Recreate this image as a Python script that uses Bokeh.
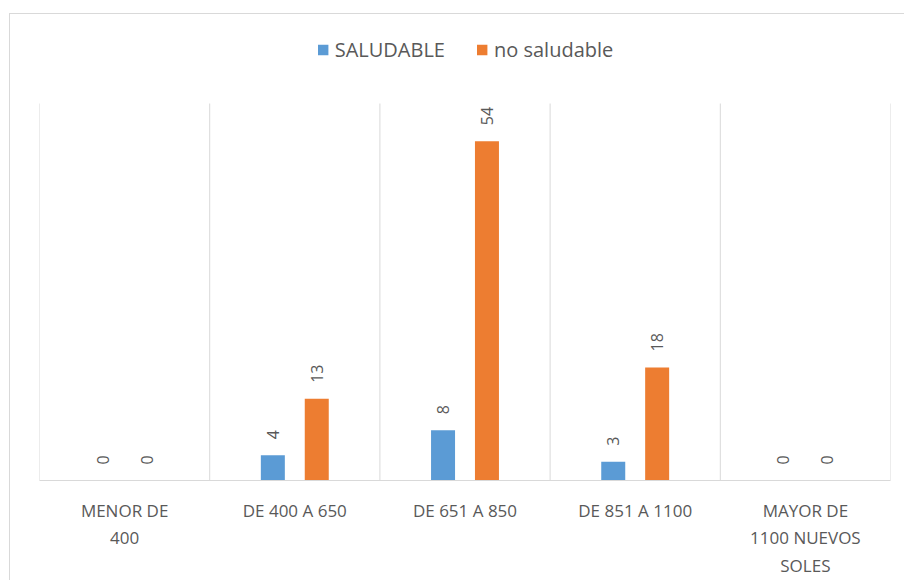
from bokeh.plotting import figure
from bokeh.models import ColumnDataSource, FixedTicker, Legend, LegendItem, LabelSet
from bokeh.core.properties import value
from bokeh.embed import file_html
from bokeh.resources import INLINE
import math

categories = ["MENOR DE\n400", "DE 400 A 650", "DE 651 A 850", "DE 851 A 1100", "MAYOR DE\n1100 NUEVOS\nSOLES"]
saludable = [0, 4, 8, 3, 0]
no_saludable = [0, 13, 54, 18, 0]
series_names = ["SALUDABLE", "no saludable"]
colors = ["#5b9bd5", "#ed7d31"]
y_max = 60

FONT = "Open Sans"
GRAY = "#595959"
LINE = "#d9d9d9"

n = len(categories)
centers = [i + 0.5 for i in range(n)]
off = 0.129
bw = 0.141

src1 = ColumnDataSource(dict(x=[c - off for c in centers], top=saludable, lab=[str(v) for v in saludable]))
src2 = ColumnDataSource(dict(x=[c + off for c in centers], top=no_saludable, lab=[str(v) for v in no_saludable]))

# frame spans from figure top to the axis; y_max sits ~377 px above the axis
frame_h = 466
y_top = y_max * frame_h / 377.0

p = figure(width=895, height=567, x_range=(0, n), y_range=(0, y_top),
           output_backend="svg", toolbar_location=None,
           min_border_left=29, min_border_right=15, min_border_top=0, min_border_bottom=101)
p.margin = (13, 0, 0, 9)
p.styles = {"border-left": "1px solid #d9d9d9", "border-top": "1px solid #d9d9d9"}
p.outline_line_color = None
p.background_fill_color = "white"
p.border_fill_color = "white"
p.xgrid.visible = False
p.ygrid.visible = False
p.yaxis.visible = False

bounds = list(range(n + 1))
p.segment(x0=bounds, y0=[0] * len(bounds), x1=bounds, y1=[y_max] * len(bounds),
          line_color=LINE, line_width=1)

r1 = p.vbar(x="x", top="top", width=bw, source=src1, color=colors[0], line_color=None)
r2 = p.vbar(x="x", top="top", width=bw, source=src2, color=colors[1], line_color=None)

for s in (src1, src2):
    lbl = LabelSet(x="x", y="top", text="lab", source=s, angle=math.pi / 2,
                   text_align="left", text_baseline="middle", x_offset=0, y_offset=16,
                   text_font=value(FONT), text_font_size="16px", text_color=GRAY)
    p.add_layout(lbl)

p.xaxis.ticker = FixedTicker(ticks=centers)
p.xaxis.major_label_overrides = {c: lab for c, lab in zip(centers, categories)}
p.xaxis.axis_line_color = LINE
p.xaxis.major_tick_line_color = None
p.xaxis.minor_tick_line_color = None
p.xaxis.major_label_text_font = FONT
p.xaxis.major_label_text_font_size = "17px"
p.xaxis.major_label_text_color = GRAY
p.xaxis.major_label_standoff = 12

legend = Legend(items=[LegendItem(label=series_names[0], renderers=[r1]),
                       LegendItem(label=series_names[1], renderers=[r2])],
                orientation="horizontal", location="top_center",
                label_text_font=FONT, label_text_font_size="20px", label_text_color=GRAY,
                glyph_width=13, glyph_height=13, spacing=30, label_standoff=6,
                border_line_color=None, background_fill_alpha=0, margin=22, padding=0)
p.add_layout(legend)

open("out.html", "w").write(file_html(p, INLINE))
